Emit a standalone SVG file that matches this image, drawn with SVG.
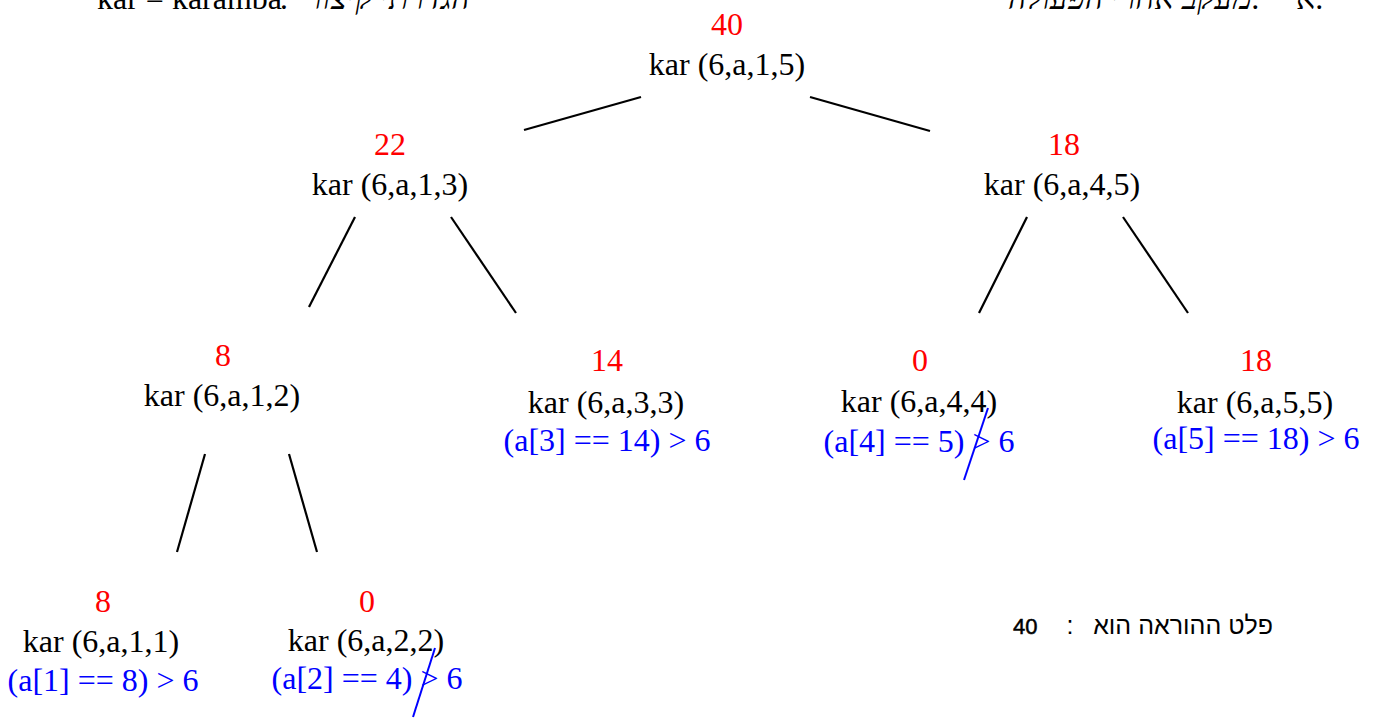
<svg xmlns="http://www.w3.org/2000/svg" width="1376" height="718" viewBox="0 0 1376 718">
<style>
text{font-family:"Liberation Serif","Times New Roman",serif;font-size:32px;text-anchor:middle}
.v{fill:#ff0000}
.c{fill:#000}
.b{fill:#0000ff}
.e{stroke:#000;stroke-width:2.2;fill:none}
.x{stroke:#0000ff;stroke-width:2;fill:none}
.heb{font-family:"Liberation Sans","DejaVu Sans",sans-serif;font-size:25px}
.num{font-family:"Liberation Sans","DejaVu Sans",sans-serif;font-size:22px;stroke:#000;stroke-width:0.5}
</style>
<rect width="1376" height="718" fill="#fff"/>
<g id="header">
<text x="97" y="9" style="text-anchor:start" class="c">kar = karamba</text>
<text x="284" y="9" class="c">:</text>
<text x="470" y="9" style="text-anchor:end;font-style:italic" class="c">הגדרתי קיצור</text>
<text x="1262" y="9" style="text-anchor:end;font-style:italic" class="c">מעקב אחרי הפעולה:</text>
<text x="1296" y="9" style="text-anchor:start" class="c">א.</text>
</g>
<g id="connectors">
<line class="e" x1="641" y1="97" x2="524" y2="130"/>
<line class="e" x1="810" y1="97" x2="930" y2="131"/>
<line class="e" x1="355" y1="217" x2="309" y2="307"/>
<line class="e" x1="451" y1="217" x2="516" y2="313"/>
<line class="e" x1="1027" y1="217" x2="979" y2="313"/>
<line class="e" x1="1123" y1="217" x2="1188" y2="313"/>
<line class="e" x1="205" y1="454" x2="177" y2="552"/>
<line class="e" x1="289" y1="454" x2="317" y2="552"/>
</g>
<g id="n15">
<text x="727" y="35" class="v">40</text>
<text x="727" y="75" class="c">kar (6,a,1,5)</text>
</g>
<g id="n13">
<text x="390" y="155" class="v">22</text>
<text x="390" y="195" class="c">kar (6,a,1,3)</text>
</g>
<g id="n45">
<text x="1064" y="155" class="v">18</text>
<text x="1062" y="195" class="c">kar (6,a,4,5)</text>
</g>
<g id="n12">
<text x="223" y="366" class="v">8</text>
<text x="222" y="406" class="c">kar (6,a,1,2)</text>
</g>
<g id="n33">
<text x="607" y="371" class="v">14</text>
<text x="606" y="413" class="c">kar (6,a,3,3)</text>
<text x="607" y="451" class="b">(a[3] == 14) &gt; 6</text>
</g>
<g id="n44">
<text x="920" y="371" class="v">0</text>
<text x="919" y="412" class="c">kar (6,a,4,4)</text>
<text x="919" y="452" class="b">(a[4] == 5) &gt; 6</text>
<line class="x" x1="988" y1="408" x2="964" y2="480"/>
</g>
<g id="n55">
<text x="1256" y="371" class="v">18</text>
<text x="1255" y="413" class="c">kar (6,a,5,5)</text>
<text x="1256" y="449" class="b">(a[5] == 18) &gt; 6</text>
</g>
<g id="n11">
<text x="103" y="612" class="v">8</text>
<text x="101" y="652" class="c">kar (6,a,1,1)</text>
<text x="103" y="691" class="b">(a[1] == 8) &gt; 6</text>
</g>
<g id="n22">
<text x="367" y="612" class="v">0</text>
<text x="366" y="651" class="c">kar (6,a,2,2)</text>
<text x="367" y="689" class="b">(a[2] == 4) &gt; 6</text>
<line class="x" x1="435" y1="648" x2="413" y2="717"/>
</g>
<g id="output">
<text x="1013" y="634" class="num c" style="text-anchor:start">40</text>
<text x="1070" y="634" class="heb c">:</text>
<text x="1273" y="634" class="heb c" style="text-anchor:end">פלט ההוראה הוא</text>
</g>
</svg>
